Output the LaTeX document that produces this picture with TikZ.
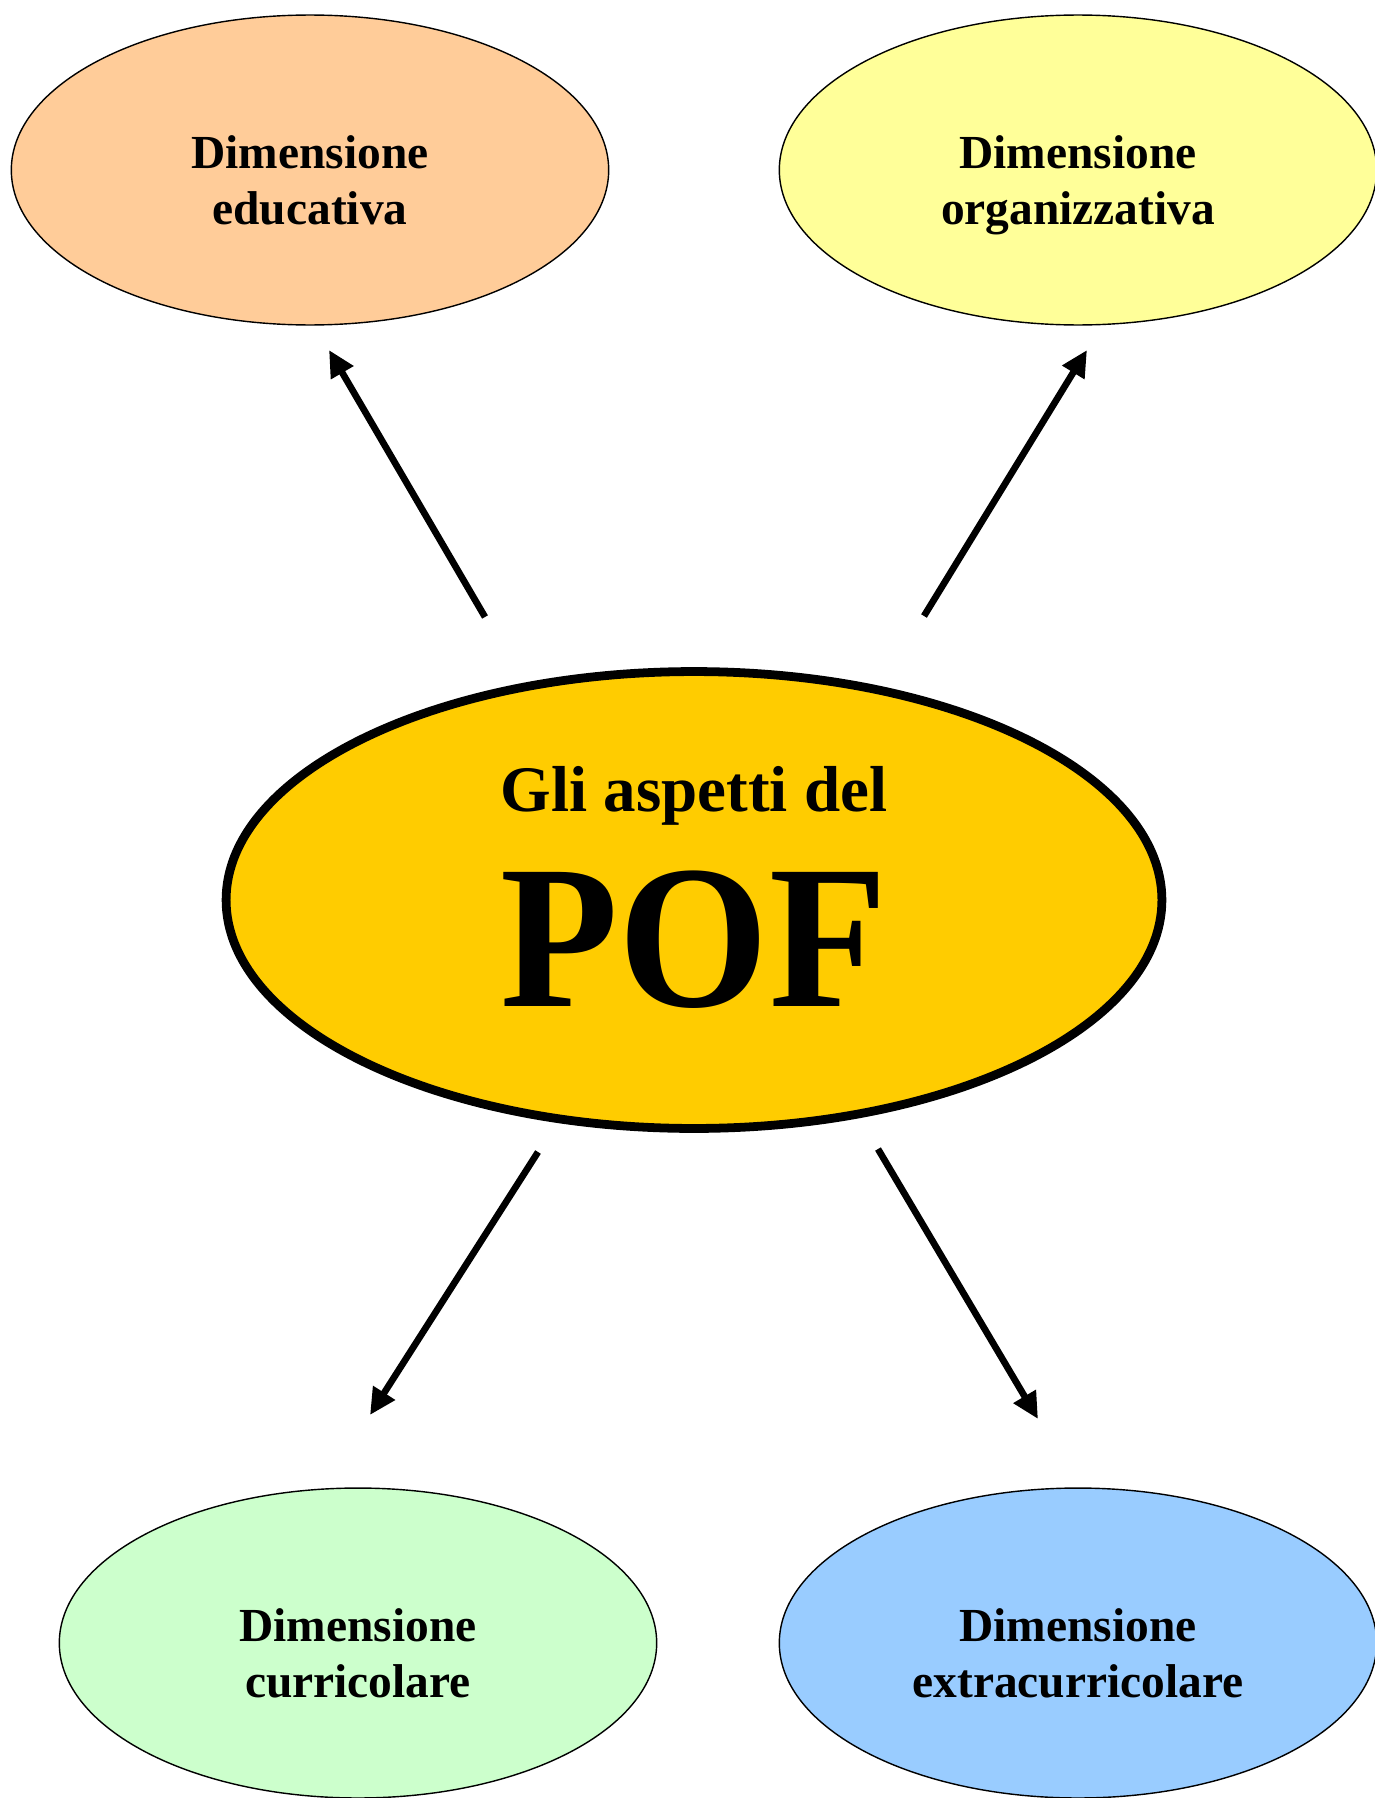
\documentclass[tikz,border=0pt]{standalone}
\usepackage{fontspec}
\setmainfont{Liberation Serif}
\usetikzlibrary{shapes.geometric,arrows.meta}
\definecolor{educol}{HTML}{FFCC99}
\definecolor{orgcol}{HTML}{FFFF99}
\definecolor{curcol}{HTML}{CCFFCC}
\definecolor{extcol}{HTML}{99CCFF}
\definecolor{pofcol}{HTML}{FFCC00}

\begin{document}
\begin{tikzpicture}[x=0.02cm, y=-0.02cm,
	dimensione/.style={ellipse, draw=black, line width=0.8pt, minimum width=11.95cm, minimum height=6.2cm, align=center, text height=62pt, text depth=0pt, font=\bfseries\fontsize{27}{32}\selectfont},
	freccia/.style={line width=3.8pt, -{Triangle[length=15pt,width=14pt]}}]
			%%%%% START %%%%%
			
			\useasboundingbox (0, 0) rectangle (1375, 1798);
			
			\node[dimensione, fill=educol] (educativa) at (310, 170) {Dimensione\\educativa};
			\node[dimensione, fill=orgcol] (organizzativa) at (1078, 170) {Dimensione\\organizzativa};
			\node[dimensione, fill=curcol] (curricolare) at (358, 1643) {Dimensione\\curricolare};
			\node[dimensione, fill=extcol] (extracurricolare) at (1078, 1643) {Dimensione\\extracurricolare};
			
			\node[ellipse, draw=black, line width=5pt, fill=pofcol, minimum width=18.72cm, minimum height=9.14cm] (pof) at (694, 900) {};
			\node[anchor=base, font=\bfseries\fontsize{37}{44}\selectfont] (titolo) at (694, 811) {Gli aspetti del};
			\node[anchor=base, font=\bfseries\fontsize{110}{110}\selectfont] (sigla) at (694, 1006) {\scalebox{1}[1.06]{POF}};
			
			\coordinate (su1) at (485, 617);
			\coordinate (su2) at (329, 350);
			\coordinate (so1) at (924, 616);
			\coordinate (so2) at (1087, 350);
			\coordinate (gc1) at (538, 1152);
			\coordinate (gc2) at (370, 1415);
			\coordinate (ge1) at (878, 1149);
			\coordinate (ge2) at (1038, 1419);
			
			\draw[freccia] (su1) -- (su2);
			\draw[freccia] (so1) -- (so2);
			\draw[freccia] (gc1) -- (gc2);
			\draw[freccia] (ge1) -- (ge2);
			
			%%%%% END %%%%%
\end{tikzpicture}
\end{document}
